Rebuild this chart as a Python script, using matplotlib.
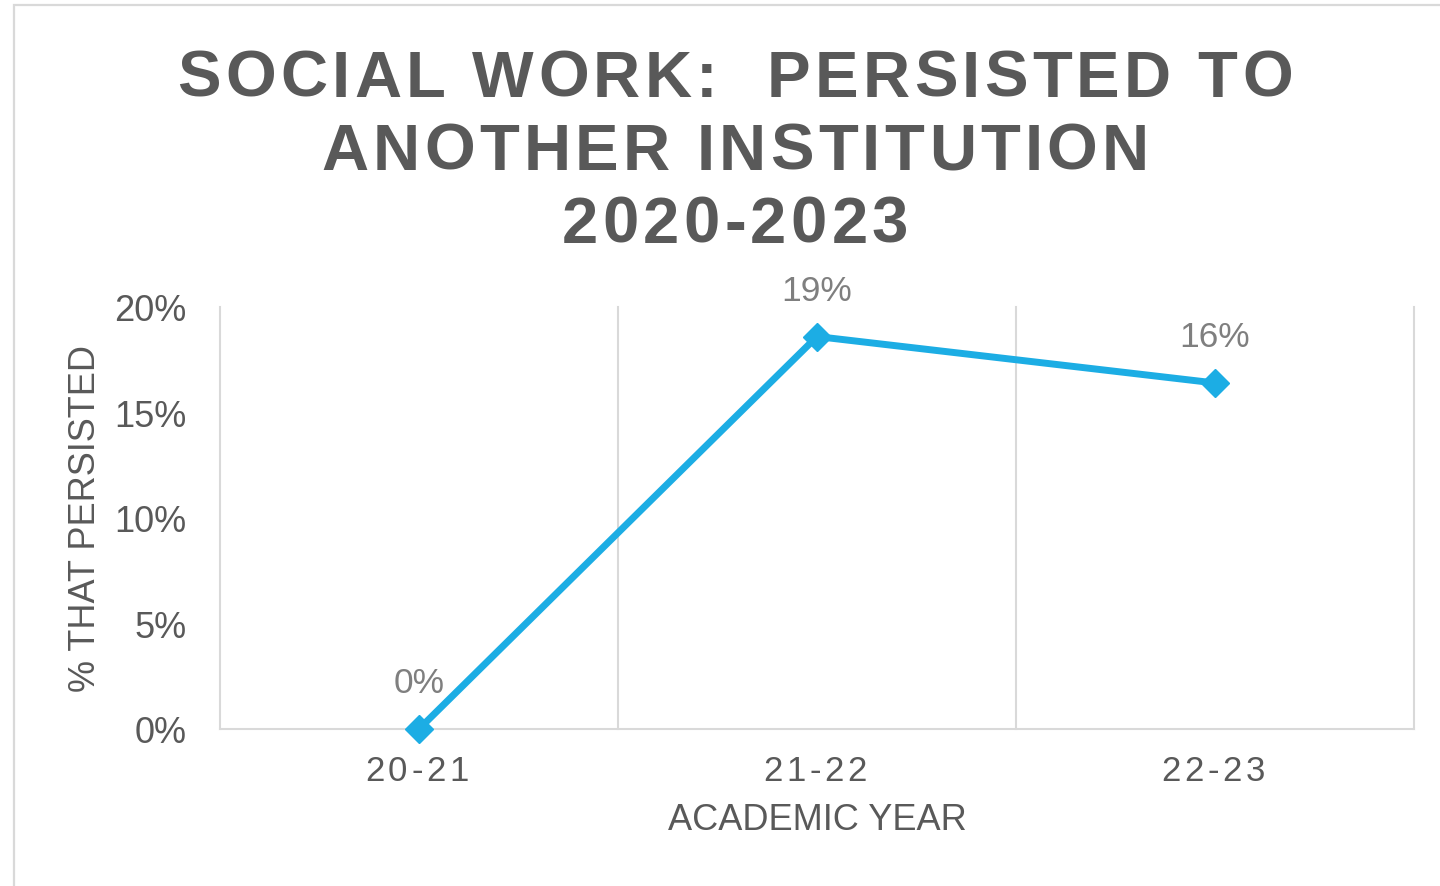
import matplotlib
matplotlib.use("Agg")
import matplotlib.pyplot as plt
from matplotlib import font_manager, ft2font
from matplotlib.font_manager import FontProperties
from matplotlib.patches import Rectangle
from matplotlib.transforms import IdentityTransform

years = ["20-21", "21-22", "22-23"]
persisted = [0.0, 0.186, 0.164]
value_labels = ["0%", "19%", "16%"]
y_ticks = [0.0, 0.05, 0.10, 0.15, 0.20]
y_tick_labels = ["0%", "5%", "10%", "15%", "20%"]
title_lines = ["SOCIAL WORK:  PERSISTED TO", "ANOTHER INSTITUTION", "2020-2023"]

DPI = 100
W, H = 1440, 887
LINE_BLUE = "#1CADE4"
DARK_GREY = "#595959"
LABEL_GREY = "#7F7F7F"
GRID_GREY = "#D9D9D9"

fig = plt.figure(figsize=(W / DPI, H / DPI), dpi=DPI)
fig.patch.set_facecolor("white")


def spaced_text(s, cx, baseline, size, weight="normal", color=DARK_GREY, track=0.0):
    """Draw s centred on cx (pixels) with extra letter spacing in pixels."""
    fp = FontProperties(family="Liberation Sans", weight=weight, size=size)
    font = ft2font.FT2Font(font_manager.findfont(fp))
    font.set_size(size, DPI)
    advances = [font.load_char(ord(c)).linearHoriAdvance / 65536 for c in s]
    total = sum(advances) + track * (len(s) - 1)
    x = cx - total / 2
    for c, a in zip(s, advances):
        if c != " ":
            fig.text(x, baseline, c, fontproperties=fp, color=color,
                     ha="left", va="baseline", transform=IdentityTransform())
        x += a + track


# outer chart border (right and bottom edges fall outside the canvas)
fig.patches.append(Rectangle((13.5 / W, -0.05), 1.2, (H - 5.5) / H + 0.05,
                             transform=fig.transFigure, fill=False,
                             edgecolor=GRID_GREY, linewidth=1.6))

# title
for line, base in zip(title_lines, [97, 170, 243]):
    spaced_text(line, 735, H - base, 47, weight="bold", track=4.3)

ax = fig.add_axes([220 / W, 1 - 730 / H, (1414 - 220) / W, (730 - 308) / H])
x = list(range(len(years)))

# category separators
for i in range(len(years) + 1):
    ax.axvline(i - 0.5, color=GRID_GREY, linewidth=1.5, clip_on=False, zorder=1)

ax.plot(x, persisted, color=LINE_BLUE, linewidth=5, marker="D",
        markersize=14, clip_on=False, zorder=3)

for xi, v, lab in zip(x, persisted, value_labels):
    ax.annotate(lab, (xi, v), xytext=(0, 37), textcoords="offset pixels",
                ha="center", va="baseline", fontsize=25.5, color=LABEL_GREY,
                family="Liberation Sans", annotation_clip=False)

ax.set_xlim(-0.5, len(years) - 0.5)
ax.set_ylim(0, 0.2)
ax.set_yticks(y_ticks)
ax.set_yticklabels(y_tick_labels, fontsize=26, color=DARK_GREY,
                   family="Liberation Sans")
ax.tick_params(axis="y", length=0, pad=24)
ax.set_xticks(x)
ax.set_xticklabels([])
ax.tick_params(axis="x", length=0)

for side in ["top", "right", "left"]:
    ax.spines[side].set_visible(False)
ax.spines["bottom"].set_color(GRID_GREY)
ax.spines["bottom"].set_linewidth(1.5)

# category labels with letter spacing
for xi, yr in zip(x, years):
    px, _ = ax.transData.transform((xi, 0))
    spaced_text(yr, px - 2, H - 781, 25, color=DARK_GREY, track=3.8)

fig.text(817 / W, 1 - 821 / H, "ACADEMIC YEAR", ha="center", va="center",
         fontsize=26, color=DARK_GREY, family="Liberation Sans")
fig.text(86 / W, 1 - 518 / H, "% THAT PERSISTED", ha="center", va="center",
         rotation=90, fontsize=26, color=DARK_GREY, family="Liberation Sans")

fig.savefig("out.png", dpi=DPI)
